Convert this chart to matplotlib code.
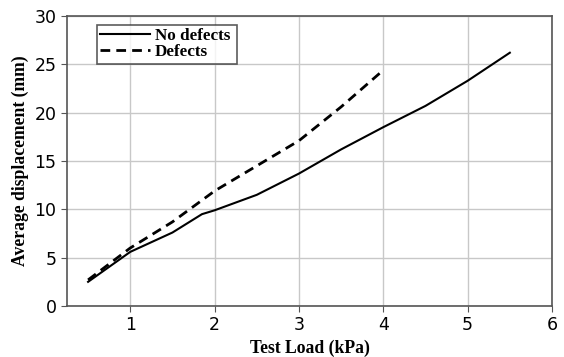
import matplotlib
matplotlib.use('Agg')
import matplotlib.pyplot as plt

# data
load_nd = [0.5, 1.0, 1.5, 1.85, 2.0, 2.5, 3.0, 3.5, 4.0, 4.5, 5.0, 5.5]
disp_nd = [2.5, 5.6, 7.6, 9.5, 9.9, 11.5, 13.7, 16.2, 18.5, 20.7, 23.3, 26.2]

load_d = [0.5, 1.0, 1.5, 2.0, 2.5, 3.0, 3.5, 4.0]
disp_d = [2.7, 6.0, 8.7, 11.9, 14.5, 17.1, 20.6, 24.4]

serif = {'family': 'Liberation Serif', 'weight': 'bold'}

fig = plt.figure(figsize=(5.64, 3.57), dpi=100)
ax = fig.add_axes([67/564, 1 - 306/357, (552-67)/564, (306-16)/357])

ax.plot(load_nd, disp_nd, color='black', lw=1.5, label='No defects')
ax.plot(load_d, disp_d, color='black', lw=2.0, ls=(0, (3.5, 2.2)), label='Defects')

ax.set_xlim(0.25, 6)
ax.set_ylim(0, 30)
ax.set_xticks([1, 2, 3, 4, 5, 6])
ax.set_yticks([0, 5, 10, 15, 20, 25, 30])
ax.tick_params(labelsize=12.5, length=4, color='#555555')
ax.grid(True, color='#c8c8c8', lw=1)
ax.set_axisbelow(True)
for s in ax.spines.values():
    s.set_color('#555555')
    s.set_linewidth(1.2)

ax.set_xlabel('Test Load (kPa)', fontdict=dict(serif, size=12.7), labelpad=4)
ax.set_ylabel('Average displacement (mm)', fontdict=dict(serif, size=12.7), labelpad=4)

# legend box stretched to the reference frame width
leg = ax.legend(loc='upper left', bbox_to_anchor=(0.062, 0.5, 0.289, 0.469),
                mode='expand',
                prop={'family': 'Liberation Serif', 'weight': 'bold', 'size': 12.3},
                frameon=True, fancybox=False, borderpad=0.2, labelspacing=0.0,
                handlelength=2.9, handletextpad=0.3, borderaxespad=0)
leg.get_frame().set_edgecolor('#333333')
leg.get_frame().set_linewidth(1.2)

plt.savefig('out.png', dpi=100)
plt.close()
